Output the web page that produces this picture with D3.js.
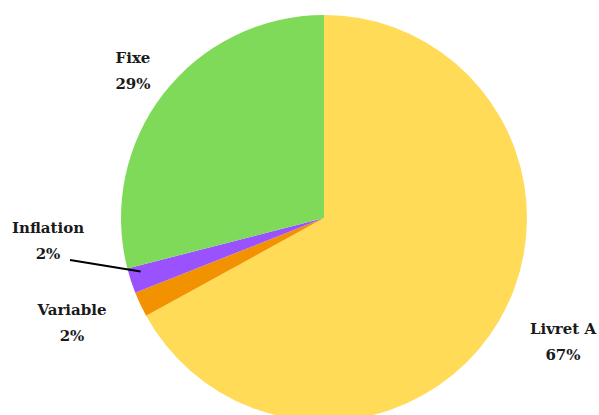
<!DOCTYPE html>
<html>
<head>
<meta charset="utf-8">
<script src="https://cdn.jsdelivr.net/npm/d3@7"></script>
<style>
  html, body { margin: 0; padding: 0; background: #fff; }
  svg { display: block; }
  text { font-family: "DejaVu Serif", serif; font-weight: bold; font-size: 15px; fill: #1a1a1a; }
</style>
</head>
<body>
<svg id="chart" width="599" height="415"></svg>
<script>
// Répartition des placements (en %)
const categories = ["Livret A", "Variable", "Inflation", "Fixe"];
const values = [67, 2, 2, 29];
const colors = ["#FFDB58", "#F39200", "#9A52FF", "#80DA5A"];

const width = 599, height = 415;
const cx = 324, cy = 218, radius = 203;

const svg = d3.select("#chart");
const g = svg.append("g").attr("transform", `translate(${cx},${cy})`);

const data = categories.map((c, i) => ({ name: c, value: values[i], color: colors[i] }));

const pie = d3.pie().value(d => d.value).sort(null);
const arc = d3.arc().innerRadius(0).outerRadius(radius);
const arcs = pie(data);

g.selectAll("path.slice")
  .data(arcs)
  .enter().append("path")
  .attr("class", "slice")
  .attr("d", arc)
  .attr("fill", d => d.data.color);

// Label placement, relative to the pie centre
const labelPos = {
  "Livret A": [239, 116],
  "Variable": [-252, 97],
  "Inflation": [-276, 15],
  "Fixe": [-191, -155]
};

const labels = svg.append("g");
arcs.forEach(a => {
  const [dx, dy] = labelPos[a.data.name];
  const t = labels.append("text")
    .attr("text-anchor", "middle")
    .attr("x", cx + dx)
    .attr("y", cy + dy);
  t.append("tspan").attr("x", cx + dx).text(a.data.name);
  t.append("tspan").attr("x", cx + dx).attr("dy", 26).text(a.data.value + "%");
});

// Leader line for the thin Inflation slice
const infl = arcs.find(a => a.data.name === "Inflation");
const inner = d3.arc().innerRadius(radius * 0.95).outerRadius(radius * 0.95);
const p = inner.centroid(infl);
svg.append("line")
  .attr("x1", cx - 254).attr("y1", cy + 42)
  .attr("x2", cx + p[0]).attr("y2", cy + p[1] - 6)
  .attr("stroke", "#000").attr("stroke-width", 2);
</script>
</body>
</html>
